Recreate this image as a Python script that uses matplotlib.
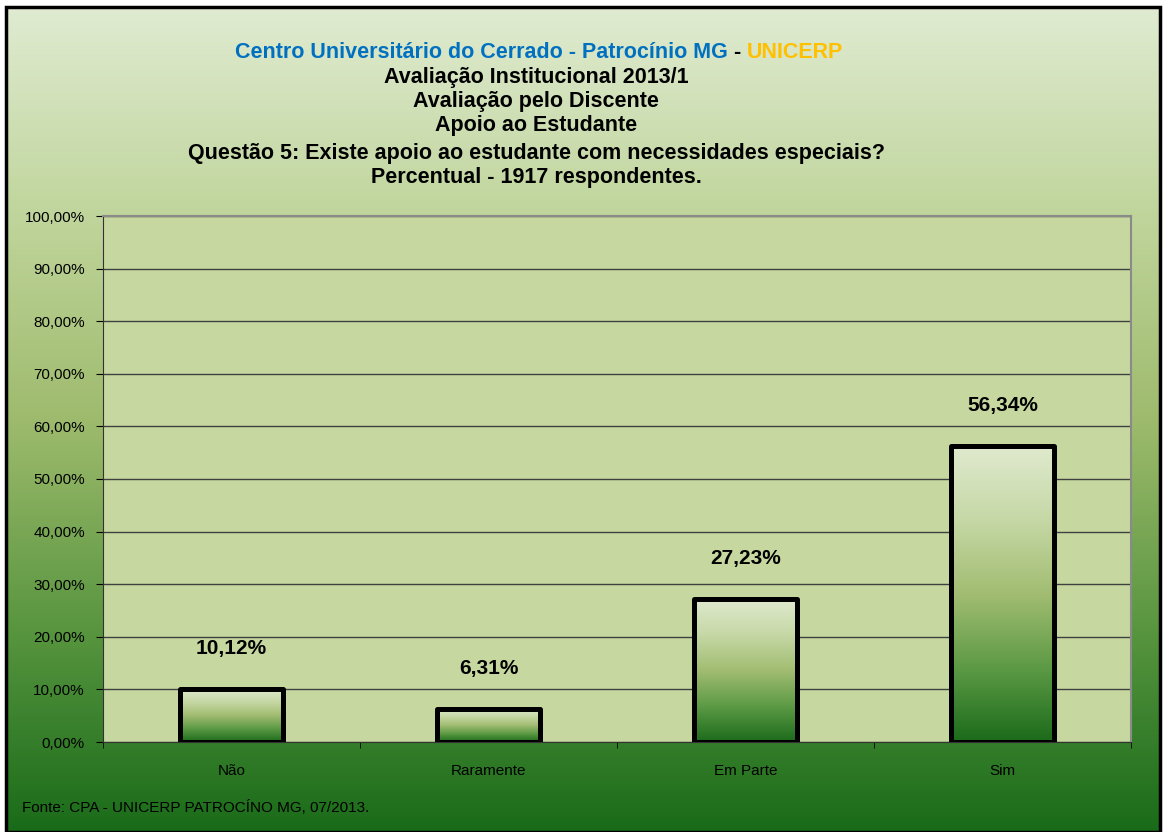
import matplotlib
matplotlib.use("Agg")
import matplotlib.pyplot as plt
import numpy as np
from matplotlib.colors import LinearSegmentedColormap
from matplotlib.patches import Rectangle

# dados
categorias = ['Não', 'Raramente', 'Em Parte', 'Sim']
percentuais = [10.12, 6.31, 27.23, 56.34]
rotulos = ['10,12%', '6,31%', '27,23%', '56,34%']
yticks = [0, 10, 20, 30, 40, 50, 60, 70, 80, 90, 100]
ytick_labels = ['%d,00%%' % v for v in yticks]

plt.rcParams['font.family'] = ['Liberation Sans', 'DejaVu Sans']

W, H = 1164, 832
fig = plt.figure(figsize=(W / 100, H / 100), dpi=100)

# fundo em degrade
bg_cmap = LinearSegmentedColormap.from_list(
    'bg', ['#e0ebd1', '#c0d59c', '#9ebb6d', '#5a9640', '#196b19'])
bg = fig.add_axes([6 / W, 0, (1160 - 6) / W, (H - 7) / H], zorder=-10)
bg.imshow(np.linspace(0, 1, 256).reshape(-1, 1), cmap=bg_cmap, aspect='auto',
          extent=(0, 1, 0, 1))
bg.set_axis_off()
fig.patches.append(Rectangle((6 / W, 0), (1160 - 6) / W, (H - 7) / H,
                             transform=fig.transFigure, fill=False,
                             edgecolor='black', linewidth=2.5, zorder=10))

ax = fig.add_axes([103 / W, 90 / H, 1028 / W, 526 / H])
ax.set_facecolor('#c6d89f')
x = np.arange(len(categorias))

bars = ax.bar(x, percentuais, width=0.4, facecolor='none', edgecolor='black',
              linewidth=3.6, zorder=3, joinstyle='round')

bar_cmap = LinearSegmentedColormap.from_list(
    'bar', ['#1b6b1b', '#5d9a45', '#a2bd72', '#c6d8a6', '#e0eacf'])
grad = np.linspace(0, 1, 256).reshape(-1, 1)
for b in bars:
    x0, w, h = b.get_x(), b.get_width(), b.get_height()
    im = ax.imshow(grad, cmap=bar_cmap, aspect='auto', origin='lower',
                   extent=(x0, x0 + w, 0, h), zorder=2)
    im.set_clip_path(b)

for xi, v, lab in zip(x, percentuais, rotulos):
    ax.annotate(lab, (xi, v), xytext=(0, 29), textcoords='offset points',
                ha='center', va='center', fontsize=15, fontweight='bold')

ax.set_xlim(-0.5, len(categorias) - 0.5)
ax.set_ylim(0, 100)
ax.set_yticks(yticks)
ax.set_yticklabels(ytick_labels, fontsize=11)
ax.set_xticks(x)
ax.set_xticklabels(categorias, fontsize=11)
ax.set_xticks(np.arange(len(categorias) + 1) - 0.5, minor=True)
ax.tick_params(axis='x', which='major', length=0, pad=16)
ax.tick_params(axis='x', which='minor', length=4, direction='out')
ax.tick_params(axis='y', length=5, direction='out', pad=8)
ax.yaxis.grid(True, color='#404040', linewidth=1)
ax.set_axisbelow(True)
for s in ['top', 'right']:
    ax.spines[s].set_color('#8a8a8a')
    ax.spines[s].set_linewidth(1.5)
ax.spines['left'].set_color('#333333')
ax.spines['bottom'].set_color('#333333')

# titulo
cx = 536 / W
fs = 15.5
t1 = fig.text(235 / W, 1 - 52 / H, 'Centro Universitário do Cerrado - Patrocínio MG',
              ha='left', va='center', fontsize=fs, fontweight='bold', color='#0070c0')
fig.canvas.draw()
bb = t1.get_window_extent()
t2 = fig.text(bb.x1 / W, 1 - 52 / H, ' - ', ha='left', va='center', fontsize=fs,
              fontweight='bold', color='black')
bb2 = t2.get_window_extent()
fig.text(bb2.x1 / W, 1 - 52 / H, 'UNICERP', ha='left', va='center', fontsize=fs,
         fontweight='bold', color='#ffc000')

linhas = ['Avaliação Institucional 2013/1', 'Avaliação pelo Discente',
          'Apoio ao Estudante',
          'Questão 5: Existe apoio ao estudante com necessidades especiais?',
          'Percentual - 1917 respondentes.']
ys = [78, 102, 126, 153, 177]
for txt, yy in zip(linhas, ys):
    fig.text(cx, 1 - yy / H, txt, ha='center', va='center', fontsize=fs,
             fontweight='bold')

fig.text(22 / W, 1 - 808 / H, 'Fonte: CPA - UNICERP PATROCÍNO MG, 07/2013.',
         ha='left', va='center', fontsize=11)

fig.savefig('out.png', dpi=100)
